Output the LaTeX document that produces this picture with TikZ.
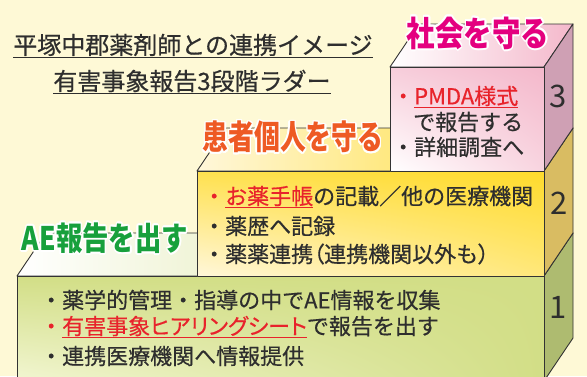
\documentclass[tikz,border=0pt]{standalone}
\usepackage{fontspec}
\setmainfont{Noto Sans CJK JP}
\newfontfamily\jpm[FakeBold=0.5]{Noto Sans CJK JP}
\newfontfamily\jpmp[FakeBold=0.5,RawFeature=+palt]{Noto Sans CJK JP}
\usetikzlibrary{shadings}
\usepackage[copies]{contour}
\contourlength{1.6pt}
\contournumber{16}
\definecolor{bg}{HTML}{FEF9D6}
\definecolor{edge}{HTML}{333333}
\definecolor{ink}{HTML}{2E2E2E}
\definecolor{redtxt}{HTML}{E8232B}
\definecolor{pinkA}{HTML}{F4B8CB}
\definecolor{pinkSide}{HTML}{CFA0B4}
\definecolor{yelA}{HTML}{FFDB2C}
\definecolor{yelB}{HTML}{FFF7DA}
\definecolor{yelSide}{HTML}{D9BC62}
\definecolor{grnA}{HTML}{D2DE86}
\definecolor{grnB}{HTML}{F2F6D2}
\definecolor{grnSide}{HTML}{AEBB70}
\definecolor{magtxt}{HTML}{E4007F}
\definecolor{orgtxt}{HTML}{EE5A24}
\definecolor{grntxt}{HTML}{17A03C}
\tikzset{
  face/.style={draw=edge, line width=0.9pt, line join=round},
  boxtext/.style={anchor=west, inner sep=0pt, text=ink, font=\jpm\fontsize{22}{22}\selectfont},
  titletext/.style={inner sep=0pt, text=ink, font=\jpm\fontsize{24}{24}\selectfont},
  digit/.style={inner sep=0pt, text=ink, font=\fontsize{31}{31}\selectfont},
  label/.style={inner sep=0pt, font=\fontsize{30}{30}\selectfont\bfseries}
}
\newcommand{\redul}[1]{\textcolor{redtxt}{\underline{#1}}}
\newcommand{\pk}[1]{{\jpmp #1}}
\begin{document}
\begin{tikzpicture}[x=1pt,y=-1pt]
\useasboundingbox (0,0) rectangle (587,376);
\fill[bg] (0,0) rectangle (587,376);
\begin{scope}
\clip (0,0) rectangle (587,376);
% ---- step 1 (green) ----
\shade[face, left color=white, right color=grnA] (17,276) -- (46,233) -- (573,233) -- (544,276) -- cycle;
\fill[grnSide] (544,276) -- (573,233) -- (573,338) -- (544,381) -- cycle;
\draw[face] (544,276) -- (573,233) -- (573,338) -- (544,381) -- cycle;
\shade[upper left=grnA, upper right=grnA, lower right=grnA, lower left=grnB] (17,276) rectangle (544,381);
\draw[face] (17,276) rectangle (544,381);
% ---- step 2 (yellow) ----
\shade[face, left color=yelB, right color=yelA] (197,171) -- (226,128) -- (573,128) -- (544,171) -- cycle;
\fill[yelSide] (544,171) -- (573,128) -- (573,233) -- (544,276) -- cycle;
\draw[face] (544,171) -- (573,128) -- (573,233) -- (544,276) -- cycle;
\shade[upper left=yelA!80!yelB, upper right=yelA, lower right=yelA!55!yelB, lower left=yelB] (197,171) rectangle (544,276);
\draw[face] (197,171) rectangle (544,276);
% ---- step 3 (pink) ----
\shade[face, left color=white, right color=pinkA] (390,67) -- (419,24) -- (573,24) -- (544,67) -- cycle;
\fill[pinkSide] (544,67) -- (573,24) -- (573,128) -- (544,171) -- cycle;
\draw[face] (544,67) -- (573,24) -- (573,128) -- (544,171) -- cycle;
\shade[upper left=pinkA!70!white, upper right=pinkA, lower right=pinkA!60!white, lower left=white] (390,67) rectangle (544,171);
\draw[face] (390,67) rectangle (544,171);
\end{scope}
% ---- title ----
\node[titletext] (t1) at (193,46) {\underline{平塚中郡薬剤師との連携イメージ}};
\node[titletext] (t2) at (192,82) {\underline{有害事象報告3段階ラダー}};
% ---- labels ----
\node[label] (l3) at (478,34) {\scalebox{0.95}[1.15]{\contour{white}{\textcolor{magtxt}{社会を守る}}}};
\node[label] (l2) at (293,138) {\scalebox{0.86}[1.12]{\contour{white}{\textcolor{orgtxt}{患者個人を守る}}}};
\node[label] (l1) at (105,239) {\scalebox{0.88}[1.08]{\contour{white}{\textcolor{grntxt}{AE報告を出す}}}};
% ---- step 3 text ----
\node[boxtext] (s3a) at (392,97) {\textcolor{redtxt}{・}\redul{PMDA様式}};
\node[boxtext] (s3b) at (413,122) {で報告する};
\node[boxtext] (s3c) at (392,147) {・詳細調査へ};
% ---- step 2 text ----
\node[boxtext] (s2a) at (203,197) {\textcolor{redtxt}{・}\redul{お薬手帳}の記載／他の医療機関};
\node[boxtext] (s2b) at (203,226) {・薬歴へ記録};
\node[boxtext] (s2c) at (203,254) {・薬薬連携\pk{（}連携機関以外も\pk{）}};
% ---- step 1 text ----
\node[boxtext] (s1a) at (40,300) {・薬学的管理・指導の中でAE情報を収集};
\node[boxtext] (s1b) at (40,327) {\textcolor{redtxt}{・}\redul{有害事象\pk{ヒアリングシート}}で報告を出す};
\node[boxtext] (s1c) at (40,356) {・連携医療機関へ情報提供};
% ---- digits ----
\node[digit] (d3) at (558,96) {3};
\node[digit] (d2) at (559,203) {2};
\node[digit] (d1) at (558,307) {1};
\end{tikzpicture}
\end{document}
